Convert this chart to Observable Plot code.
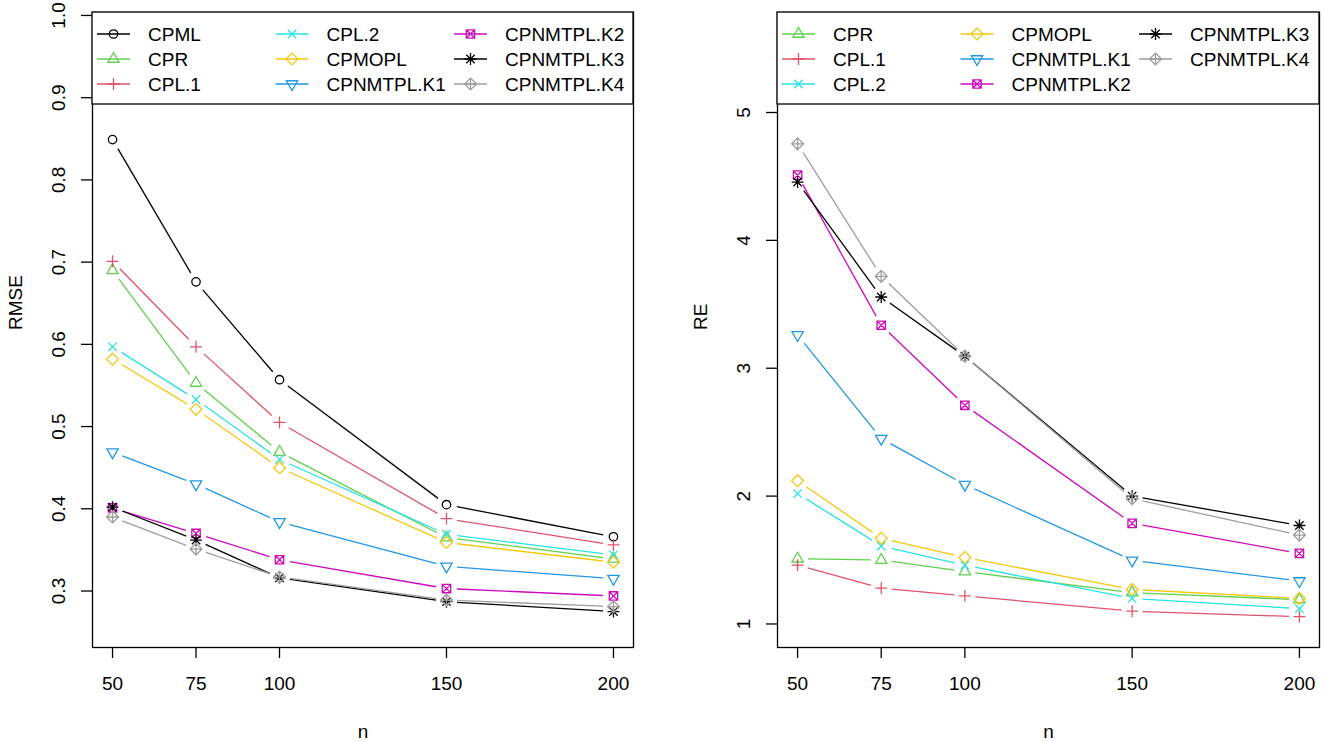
<!DOCTYPE html>
<html><head><meta charset="utf-8">
<script src="https://cdn.jsdelivr.net/npm/d3@7"></script>
<script src="https://cdn.jsdelivr.net/npm/@observablehq/plot@0.6"></script>
<style>
body{margin:0;background:#fff;}
#wrap{position:relative;width:1325px;height:742px;font-family:"Liberation Sans",Arial,sans-serif;background:#fff;}
#wrap svg{position:absolute;top:0;}
</style></head><body><div id="wrap"></div>
<script>
// ---- data ----
const nValues = [50, 75, 100, 150, 200];
const xTicks = [50, 75, 100, 150, 200];
const rmseTicks = [0.3, 0.4, 0.5, 0.6, 0.7, 0.8, 0.9, 1.0];
const rmseTickLabels = ["0.3", "0.4", "0.5", "0.6", "0.7", "0.8", "0.9", "1.0"];
const reTicks = [1, 2, 3, 4, 5];
const reTickLabels = ["1", "2", "3", "4", "5"];
const seriesNames = ["CPML", "CPR", "CPL.1", "CPL.2", "CPMOPL", "CPNMTPL.K1", "CPNMTPL.K2", "CPNMTPL.K3", "CPNMTPL.K4"];
const seriesColors = ["#000000", "#61D04F", "#DF536B", "#28E2E5", "#F5C710", "#2297E6", "#CD0BBC", "#000000", "#9E9E9E"];
const seriesPch = [1, 2, 3, 4, 5, 6, 7, 8, 9];

const rmseCPML = [0.849, 0.676, 0.557, 0.405, 0.366];
const rmseCPR = [0.690, 0.553, 0.469, 0.365, 0.339];
const rmseCPL1 = [0.701, 0.597, 0.505, 0.388, 0.356];
const rmseCPL2 = [0.597, 0.533, 0.460, 0.369, 0.344];
const rmseCPMOPL = [0.582, 0.521, 0.450, 0.359, 0.335];
const rmseK1 = [0.469, 0.430, 0.384, 0.330, 0.315];
const rmseK2 = [0.401, 0.370, 0.338, 0.303, 0.294];
const rmseK3 = [0.402, 0.362, 0.316, 0.287, 0.275];
const rmseK4 = [0.390, 0.351, 0.317, 0.289, 0.281];

const reCPR = [1.51, 1.50, 1.41, 1.245, 1.19];
const reCPL1 = [1.46, 1.28, 1.22, 1.10, 1.057];
const reCPL2 = [2.02, 1.61, 1.46, 1.20, 1.12];
const reCPMOPL = [2.12, 1.67, 1.52, 1.27, 1.20];
const reK1 = [3.26, 2.45, 2.09, 1.498, 1.336];
const reK2 = [4.51, 3.336, 2.71, 1.787, 1.552];
const reK3 = [4.456, 3.557, 3.094, 2.00, 1.77];
const reK4 = [4.755, 3.719, 3.094, 1.98, 1.695];

// ---- R-like plotting symbols ----
function drawPch(pch, ctx, s) {
  const r2 = Math.SQRT2 * s;
  if (pch === 1) { ctx.moveTo(s, 0); ctx.arc(0, 0, s, 0, 2 * Math.PI); }
  else if (pch === 2 || pch === 6) {
    const r = 1.5551 * s, xc = r * 0.8660, yc = r * 0.5, f = pch === 2 ? 1 : -1;
    ctx.moveTo(0, -r * f); ctx.lineTo(xc, yc * f); ctx.lineTo(-xc, yc * f); ctx.closePath();
  } else if (pch === 3) {
    ctx.moveTo(-r2, 0); ctx.lineTo(r2, 0); ctx.moveTo(0, -r2); ctx.lineTo(0, r2);
  } else if (pch === 4) {
    ctx.moveTo(-s, -s); ctx.lineTo(s, s); ctx.moveTo(-s, s); ctx.lineTo(s, -s);
  } else if (pch === 5 || pch === 9) {
    ctx.moveTo(0, -r2); ctx.lineTo(r2, 0); ctx.lineTo(0, r2); ctx.lineTo(-r2, 0); ctx.closePath();
    if (pch === 9) { ctx.moveTo(-r2, 0); ctx.lineTo(r2, 0); ctx.moveTo(0, -r2); ctx.lineTo(0, r2); }
  } else if (pch === 7) {
    ctx.moveTo(-s, -s); ctx.lineTo(s, -s); ctx.lineTo(s, s); ctx.lineTo(-s, s); ctx.closePath();
    ctx.moveTo(-s, -s); ctx.lineTo(s, s); ctx.moveTo(-s, s); ctx.lineTo(s, -s);
  } else if (pch === 8) {
    ctx.moveTo(-s, -s); ctx.lineTo(s, s); ctx.moveTo(-s, s); ctx.lineTo(s, -s);
    ctx.moveTo(-r2, 0); ctx.lineTo(r2, 0); ctx.moveTo(0, -r2); ctx.lineTo(0, r2);
  }
}
function pchSymbol(pch) {
  return { draw(ctx, size) { drawPch(pch, ctx, Math.sqrt(size / Math.PI)); } };
}

const SYM_R = 4.2, LW = 1.3, FS = 19;

function panel(cfg) {
  const marks = [];
  for (const sr of cfg.series) {
    const idx = seriesNames.indexOf(sr.name);
    const color = seriesColors[idx];
    const pts = sr.values.map((v, i) => ({ n: nValues[i], v }));
    const segs = d3.pairs(pts).map(([a, b]) => ({ x1: a.n, y1: a.v, x2: b.n, y2: b.v }));
    marks.push(Plot.arrow(segs, { x1: "x1", y1: "y1", x2: "x2", y2: "y2", stroke: color, strokeWidth: LW,
      headLength: 0, insetStart: 10.5, insetEnd: 10.5, strokeLinecap: "butt" }));
    marks.push(Plot.dot(pts, { x: "n", y: "v", r: SYM_R, symbol: pchSymbol(seriesPch[idx]), stroke: color,
      fill: "none", strokeWidth: LW }));
  }
  marks.push(Plot.axisY({ ticks: cfg.ticks, tickSize: 11, tickFormat: () => "", label: null, strokeWidth: LW }));
  marks.push(Plot.axisX({ ticks: xTicks, tickSize: 11, tickFormat: () => "", label: null, strokeWidth: LW }));
  marks.push(Plot.text(cfg.ticks, { y: d => d, text: (d, i) => cfg.tickLabels[i], frameAnchor: "left", dx: -34,
    rotate: -90, fontSize: FS, textAnchor: "middle", lineAnchor: "middle", fill: "black" }));
  marks.push(Plot.text(xTicks, { x: d => d, text: d => String(d), frameAnchor: "bottom", dy: 36,
    fontSize: FS, lineAnchor: "middle", fill: "black" }));
  marks.push(Plot.text(["n"], { text: d => d, frameAnchor: "bottom", dy: 84, fontSize: FS, lineAnchor: "middle", fill: "black" }));
  marks.push(Plot.text([cfg.ylabel], { text: d => d, frameAnchor: "left", dx: -77, rotate: -90, fontSize: FS,
    lineAnchor: "middle", fill: "black" }));
  marks.push(Plot.frame({ stroke: "black", strokeWidth: LW }));
  const svg = Plot.plot({
    width: cfg.width, height: 742,
    marginLeft: cfg.marginLeft, marginRight: cfg.marginRight, marginTop: 12, marginBottom: 95,
    x: { domain: [44, 206], label: null },
    y: { domain: cfg.domain, label: null },
    style: { fontFamily: "Liberation Sans, Arial, sans-serif", fontSize: FS + "px", background: "transparent", overflow: "visible" },
    marks
  });
  svg.style.left = cfg.left + "px";
  return svg;
}

const wrap = document.getElementById("wrap");
wrap.appendChild(panel({
  left: 0, width: 662, marginLeft: 92, marginRight: 29,
  domain: [0.2313, 1.0036], ticks: rmseTicks, tickLabels: rmseTickLabels, ylabel: "RMSE",
  series: [
    { name: "CPML", values: rmseCPML }, { name: "CPR", values: rmseCPR }, { name: "CPL.1", values: rmseCPL1 },
    { name: "CPL.2", values: rmseCPL2 }, { name: "CPMOPL", values: rmseCPMOPL }, { name: "CPNMTPL.K1", values: rmseK1 },
    { name: "CPNMTPL.K2", values: rmseK2 }, { name: "CPNMTPL.K3", values: rmseK3 }, { name: "CPNMTPL.K4", values: rmseK4 }
  ]
}));
wrap.appendChild(panel({
  left: 662, width: 663, marginLeft: 115, marginRight: 6,
  domain: [0.816, 5.782], ticks: reTicks, tickLabels: reTickLabels, ylabel: "RE",
  series: [
    { name: "CPR", values: reCPR }, { name: "CPL.1", values: reCPL1 }, { name: "CPL.2", values: reCPL2 },
    { name: "CPMOPL", values: reCPMOPL }, { name: "CPNMTPL.K1", values: reK1 }, { name: "CPNMTPL.K2", values: reK2 },
    { name: "CPNMTPL.K3", values: reK3 }, { name: "CPNMTPL.K4", values: reK4 }
  ]
}));

// ---- legends ----
const leg = d3.create("svg").attr("width", 1325).attr("height", 742).style("left", "0px")
  .style("font-family", "Liberation Sans, Arial, sans-serif").style("font-size", FS + "px");
function legend(bx, bw, names) {
  leg.append("rect").attr("x", bx).attr("y", 12).attr("width", bw).attr("height", 92)
    .attr("fill", "white").attr("stroke", "black").attr("stroke-width", LW);
  names.forEach((nm, i) => {
    const idx = seriesNames.indexOf(nm), col = Math.floor(i / 3), row = i % 3;
    const x0 = bx + 5 + col * 178.5, y = 34 + row * 25, c = seriesColors[idx];
    leg.append("line").attr("x1", x0).attr("x2", x0 + 33).attr("y1", y).attr("y2", y)
      .attr("stroke", c).attr("stroke-width", LW);
    const p = d3.path();
    drawPch(seriesPch[idx], p, SYM_R);
    leg.append("path").attr("d", p.toString()).attr("transform", `translate(${x0 + 16.5},${y})`)
      .attr("fill", "none").attr("stroke", c).attr("stroke-width", LW);
    leg.append("text").attr("x", bx + 56 + col * 178.5).attr("y", y).attr("dy", "0.35em").text(nm);
  });
}
legend(92, 541, ["CPML", "CPR", "CPL.1", "CPL.2", "CPMOPL", "CPNMTPL.K1", "CPNMTPL.K2", "CPNMTPL.K3", "CPNMTPL.K4"]);
legend(777, 542, ["CPR", "CPL.1", "CPL.2", "CPMOPL", "CPNMTPL.K1", "CPNMTPL.K2", "CPNMTPL.K3", "CPNMTPL.K4"]);
wrap.appendChild(leg.node());
</script></body></html>
